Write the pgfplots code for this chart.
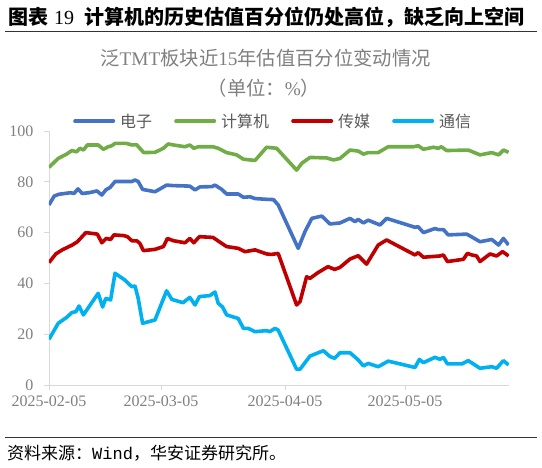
\documentclass[border=0pt]{standalone}
\usepackage{pgfplots}
\usepackage{pgfplotstable}
\pgfplotsset{compat=1.18}
\usepackage{fontspec}
\setmainfont{Liberation Serif}
\setmonofont{Liberation Mono}
\newfontfamily\cjk{Noto Sans CJK SC}
\definecolor{cE}{HTML}{4472C4}
\definecolor{cC}{HTML}{70AD47}
\definecolor{cM}{HTML}{C00000}
\definecolor{cT}{HTML}{00B0F0}
\definecolor{axgray}{HTML}{D9D9D9}
\definecolor{tkgray}{HTML}{7F7F7F}
\definecolor{lggray}{HTML}{595959}

\pgfplotstableread{
d v
0 70.9
1.3 74.4
2.5 75.1
5.4 75.7
6.25 75.4
7.25 77.2
8.3 75.4
10 75.7
12 76.4
13.2 74.8
14.2 76.8
15.3 77.8
16.5 80.1
19 80.1
20.7 80.1
21.5 80.7
22.3 80.1
23.4 77.0
26.5 76.1
27.75 77.2
29.4 78.7
31.1 78.5
35.2 78.3
36.5 76.8
37.75 78.0
40.7 78.1
41.5 78.7
43.2 77.0
44.4 75.2
47.3 75.2
48.6 73.9
50.25 74.1
51.5 73.4
54.4 73.1
56.1 73.0
57.3 70.9
62.3 53.8
64 60.4
65.7 65.6
68.2 66.5
70.25 63.4
72.75 63.8
75.25 65.6
76.5 64.3
77.3 65.2
78.6 63.8
79.8 64.9
82.75 63.0
84.4 65.6
91.5 62.1
92.3 62.3
93.6 60.0
96.5 61.6
97.3 61.2
98.6 61.2
99.8 59.1
104.4 59.4
105.25 58.7
107.75 56.4
110.7 57.3
112.4 55.1
113.6 57.7
114.9 55.1
}\tabE

\pgfplotstableread{
d v
0 85.7
2.3 89.2
4.4 90.9
5.7 92.3
6.9 91.8
7.7 93.2
8.6 92.5
9.6 94.5
12.3 94.5
13.6 92.8
14.8 93.8
15.7 94.2
16.5 95.1
19.4 95.1
20.7 94.5
21.9 94.6
22.7 93.2
23.7 91.5
26.5 91.6
28.6 93.2
29.8 94.9
31.1 94.5
34 93.8
35.2 94.5
36.2 93.2
37.3 93.8
41 93.8
42.3 93.2
44.4 91.5
46.9 90.6
48.6 88.9
51.5 88.4
54.4 93.6
56.9 93.2
61.9 84.6
63.2 87.3
65.25 89.6
69.4 89.4
71.1 88.6
72.75 89.2
75.25 92.5
77.3 92.1
78.6 90.9
79.8 91.5
82.3 91.5
84.8 93.8
91.1 93.8
92.3 94.2
93.6 92.8
96.1 93.6
97.3 93.2
98.1 93.8
99.4 92.3
104.8 92.5
107.75 90.6
110.7 91.5
112.4 90.6
113.6 92.5
114.9 91.6
}\tabC

\pgfplotstableread{
d v
0 48.2
1.7 51.6
3.3 53.2
5.8 55.1
7.1 56.4
9.2 60.0
12.1 59.4
13.2 56.0
14.3 57.7
15.4 57.3
16.25 59.1
18.75 58.8
19.6 58.4
20.7 56.8
22 56.7
22.7 55.8
23.6 52.9
26.5 53.4
28.6 54.5
29.6 57.7
31.1 56.8
34 56.0
35.2 57.7
36.2 56.0
37.6 58.4
41 58.1
42.3 56.7
44.4 54.5
47.3 53.8
49 52.5
51.5 53.2
54.4 51.6
55.6 51.4
57.3 51.8
61.9 31.5
62.75 32.8
64.4 42.6
65.25 42.0
67.3 44.3
69.75 46.6
71.4 45.5
72.75 46.3
75.25 49.6
77.3 50.9
79.4 47.6
82.3 55.1
84.4 57.1
91.5 51.2
92.3 52.1
93.6 50.3
97.75 50.8
98.6 51.2
99.6 48.6
103.6 49.5
104.6 51.8
105.7 51.2
106.9 50.8
107.75 48.6
110.25 51.6
111.9 50.8
113.4 52.5
114.9 50.8
}\tabM

\pgfplotstableread{
d v
0 18.0
2.3 24.3
4.4 26.6
5.7 28.5
6.75 28.9
7.5 31.1
8.6 27.6
12.3 36.1
13.4 30.7
14.2 34.1
15.4 33.5
16.5 44.0
18.9 41.4
20.7 38.7
21.5 39.0
22.3 34.1
23.4 24.3
26.5 25.6
29.4 37.1
30.7 33.7
33.5 32.4
35.2 34.5
36.5 31.5
37.6 34.8
40.2 35.2
41.5 36.6
42.3 32.2
43.4 30.7
44.4 27.6
47.3 26.2
48.6 22.3
49.8 22.3
51.5 21.0
54.4 21.4
55.2 21.0
56.5 22.3
57.3 21.6
61.9 6.2
62.75 6.2
65.25 11.4
68.6 13.5
70.25 11.2
71.4 10.5
72.75 12.7
75.25 12.7
77.3 9.9
78.6 7.5
79.8 8.5
82.3 7.2
84.8 9.4
91.5 6.9
92.6 10.1
93.6 8.8
96.5 10.9
97.75 10.1
98.6 10.9
99.6 8.3
103.25 8.3
104.8 9.6
107.75 6.6
110.7 7.2
111.9 6.6
113.6 9.6
114.9 7.9
}\tabT

\begin{document}
\begin{tikzpicture}
\useasboundingbox (0,0) rectangle (542pt,-468pt);
% header
\node[anchor=west, inner sep=0pt, font=\cjk\bfseries\fontsize{20}{21}\selectfont] at (8pt,-17pt) {图表\hspace{0.3em}{\rmfamily\mdseries 19}\hspace{0.5em}计算机的历史估值百分位仍处高位，缺乏向上空间};
\draw[line width=1pt, black!80] (5pt,-32pt) -- (537pt,-32pt);
% chart title
\node[inner sep=0pt, text=tkgray, font=\cjk\fontsize{19.3}{20}\selectfont] at (265.5pt,-58pt) {泛{\rmfamily TMT}板块近{\rmfamily 15}年估值百分位变动情况};
\node[inner sep=0pt, text=tkgray, font=\cjk\fontsize{19.3}{20}\selectfont] at (264pt,-88pt) {（单位：{\rmfamily\%}）};

\begin{axis}[
  at={(49pt,-385pt)}, anchor=south west,
  scale only axis, width=460pt, height=254pt,
  xmin=0, xmax=115, ymin=0, ymax=100,
  axis x line*=bottom, axis y line*=left,
  axis line style={draw=axgray, line width=0.9pt},
  every tick/.style={draw=axgray, line width=0.9pt},
  tick align=outside, major tick length=5pt,
  xtick={0,28,59,89},
  xticklabels={2025-02-05,2025-03-05,2025-04-05,2025-05-05},
  ytick={0,20,40,60,80,100},
  /pgf/number format/assume math mode=true,
  tick label style={font=\fontsize{16}{16}\selectfont, text=tkgray},
  yticklabel style={xshift=-7pt},
  xticklabel style={yshift=-2pt},
  legend columns=4,
  legend style={at={(0.0522,1.039)}, anchor=west, draw=none, fill=none, inner sep=0pt,
    font=\cjk\fontsize{16}{16}\selectfont, text=lggray,
    nodes={inner sep=2pt},
    /tikz/every odd column/.append style={column sep=3pt},
    /tikz/every even column/.append style={column sep=20pt}},
  legend image code/.code={\draw[#1, line cap=round] (0pt,0pt) -- (38.4pt,0pt);},
  every axis plot/.append style={line width=3.6pt, line join=round, no markers},
]
\addplot[cE] table[x=d,y=v] {\tabE};
\addlegendentry{电子}
\addplot[cC] table[x=d,y=v] {\tabC};
\addlegendentry{计算机}
\addplot[cM] table[x=d,y=v] {\tabM};
\addlegendentry{传媒}
\addplot[cT] table[x=d,y=v] {\tabT};
\addlegendentry{通信}
\end{axis}

% footer
\draw[line width=1pt, black!80] (5pt,-438pt) -- (537pt,-438pt);
\node[anchor=west, inner sep=0pt, font=\cjk\fontsize{17}{18}\selectfont] at (7pt,-453pt) {资料来源：{\ttfamily Wind}，华安证券研究所。};
\end{tikzpicture}
\end{document}
